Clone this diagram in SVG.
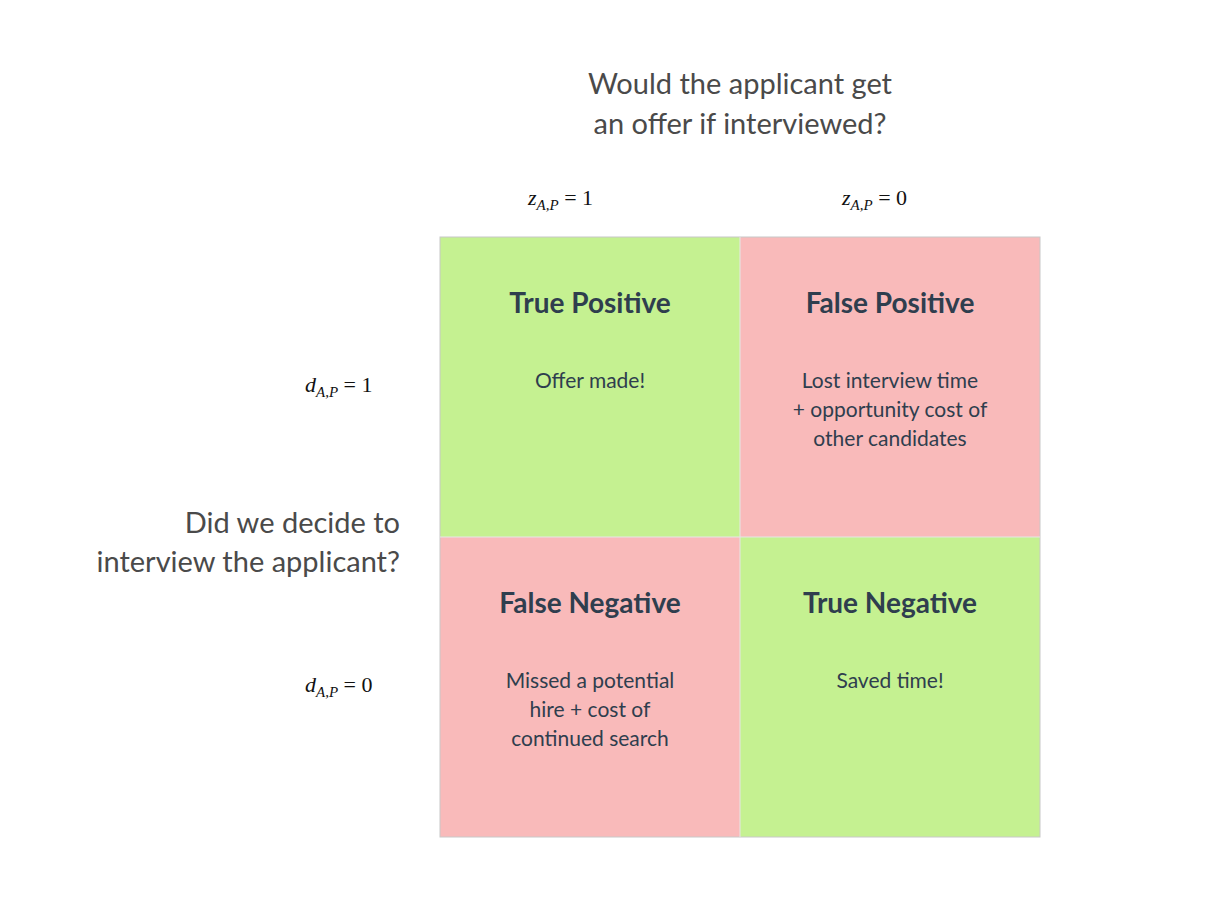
<svg xmlns="http://www.w3.org/2000/svg" width="1230" height="900" viewBox="0 0 1230 900">
<style>
.g{fill:#c5f191}.r{fill:#f9baba}
.h{font-family:Lato,"Liberation Sans",sans-serif;font-weight:bold;font-size:28px;fill:#2f3e4e;text-anchor:middle}
.b{font-family:Lato,"Liberation Sans",sans-serif;font-size:21px;fill:#2f3e4e;text-anchor:middle}
.t{font-family:Lato,"Liberation Sans",sans-serif;font-size:29px;fill:#4a4a4a}
.m{font-family:"Liberation Serif",serif;font-size:22px;fill:#111}
.i{font-style:italic}
</style>
<rect width="1230" height="900" fill="#fff"/>
<text class="t" text-anchor="middle"><tspan x="740" y="94">Would the applicant get</tspan><tspan x="740" y="134">an offer if interviewed?</tspan></text>
<text class="t" text-anchor="end"><tspan x="400" y="533">Did we decide to</tspan><tspan x="400" y="572">interview the applicant?</tspan></text>
<text class="m" x="528" y="205"><tspan class="i">z</tspan><tspan class="i" font-size="15" dy="5">A,P</tspan><tspan dy="-5"> = 1</tspan></text>
<text class="m" x="842" y="205"><tspan class="i">z</tspan><tspan class="i" font-size="15" dy="5">A,P</tspan><tspan dy="-5"> = 0</tspan></text>
<text class="m" x="305" y="392"><tspan class="i">d</tspan><tspan class="i" font-size="15" dy="5">A,P</tspan><tspan dy="-5"> = 1</tspan></text>
<text class="m" x="305" y="692"><tspan class="i">d</tspan><tspan class="i" font-size="15" dy="5">A,P</tspan><tspan dy="-5"> = 0</tspan></text>
<g id="tp"><rect class="g" x="440" y="237" width="300" height="300"/><text class="h" x="590" y="313">True Positive</text><text class="b" x="590" y="388">Offer made!</text></g>
<g id="fp"><rect class="r" x="740" y="237" width="300" height="300"/><text class="h" x="890" y="313">False Positive</text><text class="b"><tspan x="890" y="388">Lost interview time</tspan><tspan x="890" y="417">+ opportunity cost of</tspan><tspan x="890" y="446">other candidates</tspan></text></g>
<g id="fn"><rect class="r" x="440" y="537" width="300" height="300"/><text class="h" x="590" y="613">False Negative</text><text class="b"><tspan x="590" y="688">Missed a potential</tspan><tspan x="590" y="717">hire + cost of</tspan><tspan x="590" y="746">continued search</tspan></text></g>
<g id="tn"><rect class="g" x="740" y="537" width="300" height="300"/><text class="h" x="890" y="613">True Negative</text><text class="b" x="890" y="688">Saved time!</text></g>
<g id="connectors"><rect x="440" y="237" width="600" height="600" fill="none" stroke="#c8c8c8" stroke-width="1"/><path d="M740 237V837M440 537H1040" stroke="#e6e6e6" stroke-width="1"/></g>
</svg>
